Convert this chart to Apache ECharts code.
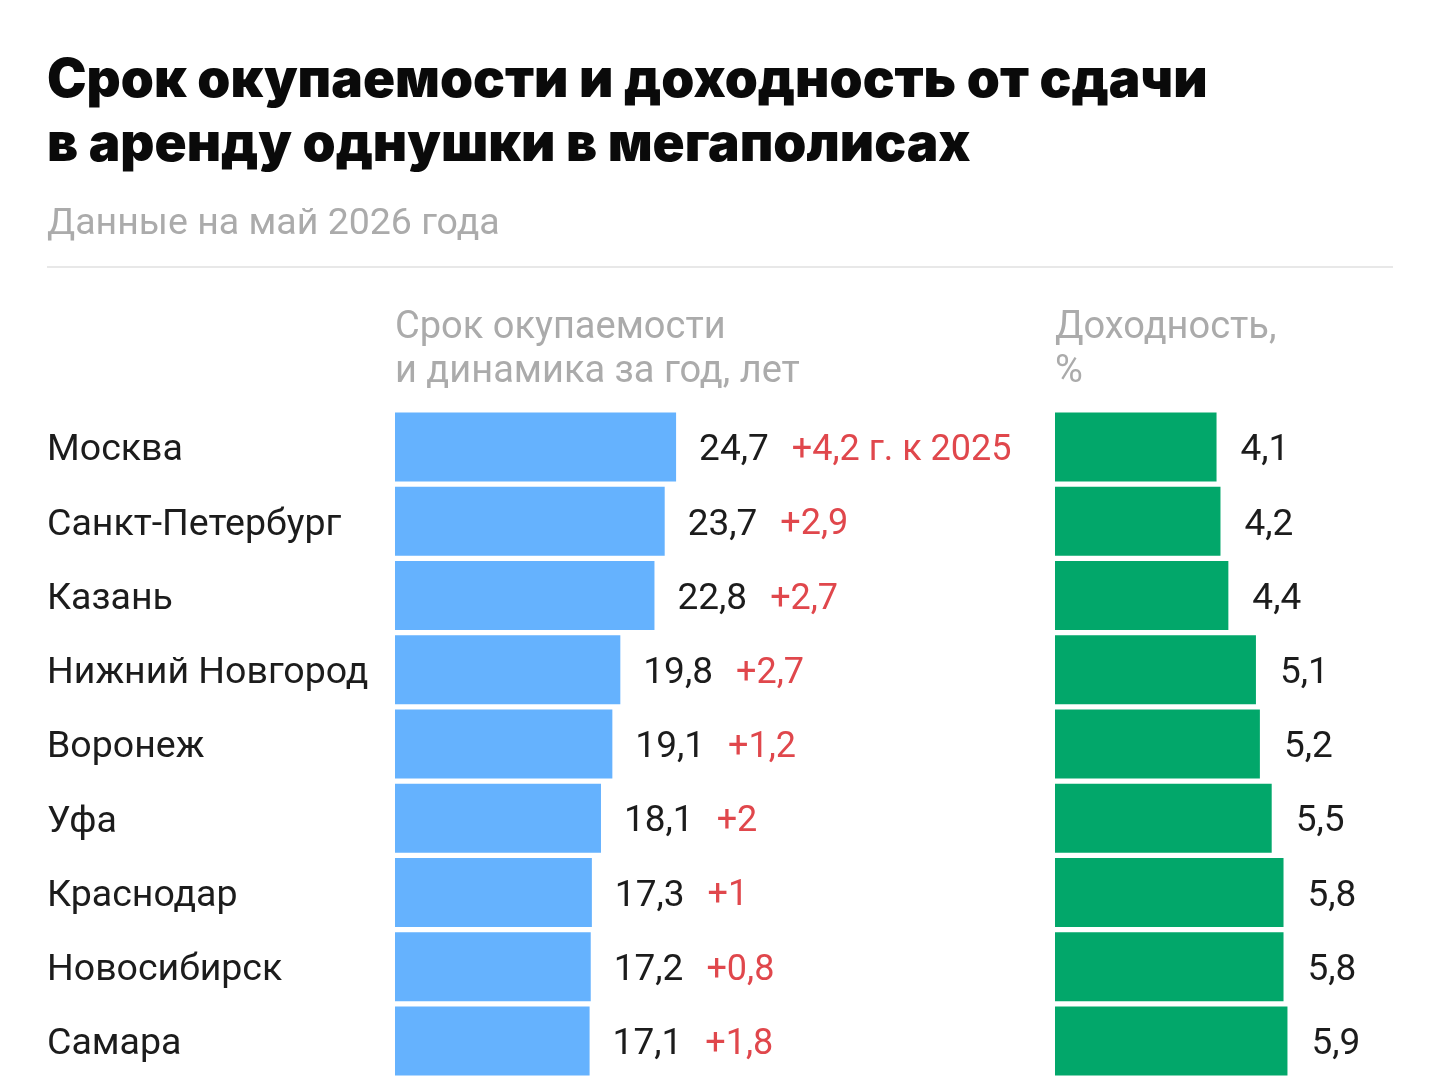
<!DOCTYPE html>
<html>
<head>
  <meta charset="utf-8">
  <title>Срок окупаемости и доходность</title>
  <script src="https://cdn.jsdelivr.net/npm/echarts@6/dist/echarts.min.js"></script>
  <style>
    html, body { margin: 0; padding: 0; background: #fff; }
    #chart { width: 1438px; height: 1078px; }
  </style>
</head>
<body>
  <div id="chart"></div>
  <script>
    var cities = ['Москва', 'Санкт-Петербург', 'Казань', 'Нижний Новгород', 'Воронеж', 'Уфа', 'Краснодар', 'Новосибирск', 'Самара'];
    var payback = [24.7, 23.7, 22.8, 19.8, 19.1, 18.1, 17.3, 17.2, 17.1];
    var payChange = [4.2, 2.9, 2.7, 2.7, 1.2, 2, 1, 0.8, 1.8];
    var yieldPct = [4.1, 4.2, 4.4, 5.1, 5.2, 5.5, 5.8, 5.8, 5.9];

    var font = 'Roboto, "Noto Sans", sans-serif';
    var titleFont = 'Inter, Roboto, sans-serif';
    var ru = function (v) { return String(v).replace('.', ','); };

    var chart = echarts.init(document.getElementById('chart'));

    var option = {
      backgroundColor: '#fff',
      animation: false,
      textStyle: { fontFamily: font },
      title: [{
        text: 'Срок окупаемости и доходность от сдачи\nв аренду однушки в мегаполисах',
        left: 47,
        top: 49,
        padding: 0,
        textStyle: { fontFamily: titleFont, fontSize: 53, fontWeight: 900, lineHeight: 64, color: '#0a0a0a' }
      }, {
        text: 'Данные на май 2026 года',
        left: 47,
        top: 206,
        padding: 0,
        textStyle: { fontFamily: font, fontSize: 37.5, fontWeight: 'normal', color: '#ababab' }
      }, {
        text: 'Срок окупаемости\nи динамика за год, лет',
        left: 395,
        top: 306,
        padding: 0,
        textStyle: { fontFamily: font, fontSize: 38, fontWeight: 'normal', lineHeight: 44, color: '#ababab' }
      }, {
        text: 'Доходность,\n%',
        left: 1055,
        top: 306,
        padding: 0,
        textStyle: { fontFamily: font, fontSize: 38, fontWeight: 'normal', lineHeight: 44, color: '#ababab' }
      }],
      graphic: [{
        type: 'line',
        shape: { x1: 47, y1: 267, x2: 1393, y2: 267 },
        style: { stroke: '#e8e8e8', lineWidth: 2 }
      }],
      grid: [
        { left: 395, top: 410, width: 284.5, height: 670 },
        { left: 1055, top: 410, width: 236.4, height: 670 }
      ],
      xAxis: [
        { gridIndex: 0, type: 'value', min: 0, max: 25, show: false },
        { gridIndex: 1, type: 'value', min: 0, max: 6, show: false }
      ],
      yAxis: [{
        gridIndex: 0,
        type: 'category',
        data: cities,
        inverse: true,
        axisLine: { show: false },
        axisTick: { show: false },
        axisLabel: {
          align: 'left', margin: 348,
          formatter: function (v) { return '{c|' + v + '}'; },
          rich: {
            c: { fontFamily: font, fontSize: 37.5, color: '#1c1c1c', padding: [8, 0, 0, 0] }
          }
        }
      }, {
        gridIndex: 1,
        type: 'category',
        data: cities,
        inverse: true,
        show: false
      }],
      series: [{
        type: 'bar',
        xAxisIndex: 0,
        yAxisIndex: 0,
        data: payback,
        barWidth: 69,
        itemStyle: { color: '#65b2fe' },
        label: {
          show: true,
          position: 'right',
          distance: 23,
          offset: [0, 4],
          formatter: function (p) {
            var d = '+' + ru(payChange[p.dataIndex]);
            if (p.dataIndex === 0) d += ' г. к 2025';
            return '{v|' + ru(p.value) + '}{d|' + d + '}';
          },
          rich: {
            v: { fontFamily: font, fontSize: 37, color: '#1c1c1c' },
            d: { fontFamily: font, fontSize: 36, color: '#e0474c', padding: [0, 0, 0, 23] }
          }
        }
      }, {
        type: 'bar',
        xAxisIndex: 1,
        yAxisIndex: 1,
        data: yieldPct,
        barWidth: 69,
        itemStyle: { color: '#02a76a' },
        label: {
          show: true,
          position: 'right',
          distance: 24,
          offset: [0, 4],
          fontFamily: font,
          fontSize: 37,
          color: '#1c1c1c',
          formatter: function (p) { return ru(p.value); }
        }
      }]
    };

    chart.setOption(option);
  </script>
</body>
</html>
